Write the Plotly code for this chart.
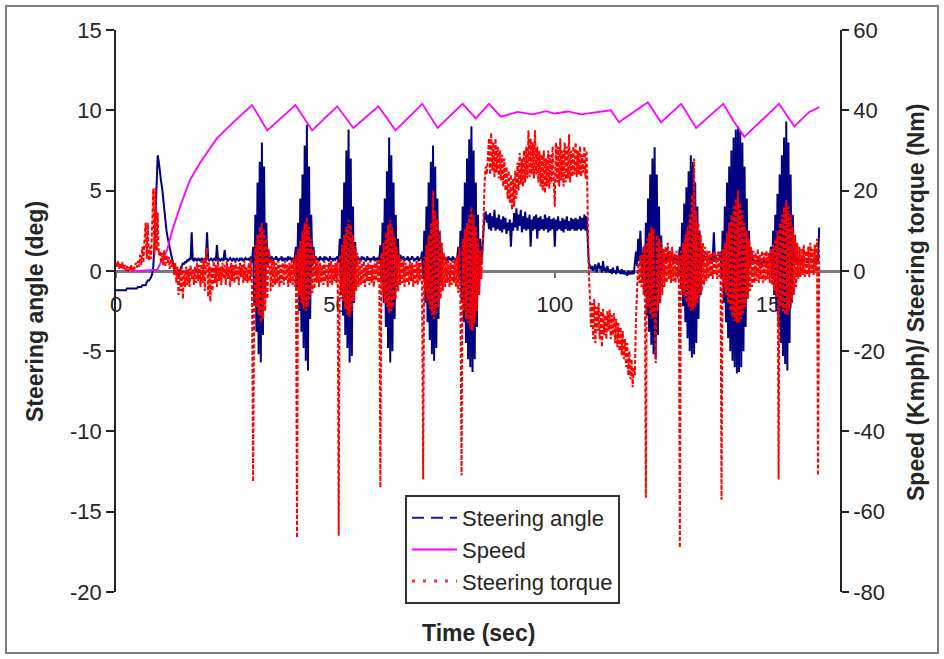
import plotly.graph_objects as go

# Sampled channels (one value every 0.25 s, starting at t = 0)
SAMPLE_INTERVAL_S = 0.25

steering_angle_deg = [
    -1.2, -1.2, -1.2, -1.2, -1.2, -1.2, -1.2, -1.2, -1.2, -1.2, -1.1, -1.1, -1.1, -1.1, -1.1, -1.1, -1.1, -1.1, -1.1, -1.1,
    -1.0, -1.0, -1.0, -1.0, -0.9, -0.9, -0.9, -0.9, -0.7, -0.6, -0.6, -0.5, -0.4, -0.2, 0.3, 1.5, 3.5, 5.8, 7.2, 6.8,
    6.0, 5.6, 5.2, 4.4, 3.6, 3.0, 2.5, 2.1, 1.7, 1.3, 1.1, 0.8, 0.4, 0.1, -0.2, -0.2, -0.3, -0.2, -0.2, 0.2,
    0.3, 0.5, 0.4, 0.6, 0.5, 0.7, 0.6, 0.8, 0.7, 2.4, 0.7, 0.6, 0.8, 0.7, 0.6, 0.8, 0.7, 0.6, 0.8, 0.7,
    0.6, 0.8, 0.7, 2.4, 0.8, 0.6, 0.7, 0.8, 0.6, 0.7, 0.8, 0.6, 1.6, 0.7, 0.8, 0.6, 0.7, 0.8, 0.6, 1.3,
    0.7, 0.8, 0.6, 0.7, 0.8, 0.7, 0.6, 0.8, 0.7, 0.6, 0.8, 0.7, 0.6, 0.8, 0.7, 0.8, 0.6, 0.7, 0.8, 0.7,
    0.7, 0.8, 0.6, 0.9, 0.5, 1.5, -2.0, 3.5, -3.8, 5.5, -5.2, 6.8, -5.7, 8.0, -4.0, 6.5, -1.5, 3.0, 0.2, 1.2,
    0.8, 0.7, 0.9, 0.6, 0.8, 0.7, 0.9, 0.7, 0.6, 0.8, 0.7, 0.9, 0.6, 0.8, 0.7, 0.8, 0.6, 0.9, 0.7, 0.8,
    0.7, 0.8, 0.6, 0.9, 1.5, -1.0, 3.0, -2.5, 4.5, -3.8, 6.0, -4.8, 7.8, -5.6, 9.1, -6.2, 6.5, -3.0, 3.5, 0.3,
    1.5, 0.6, 0.9, 0.7, 0.8, 0.6, 0.9, 0.7, 0.8, 0.6, 0.9, 0.7, 0.8, 0.7, 0.6, 0.9, 0.7, 0.8, 0.6, 0.8,
    0.7, 0.8, 0.9, 0.5, 2.0, -1.5, 3.8, -2.8, 5.5, -4.0, 7.5, -4.8, 8.8, -5.7, 7.0, -5.3, 4.0, -2.0, 1.8, 0.4,
    0.9, 0.7, 0.8, 0.6, 0.9, 0.7, 0.8, 0.7, 0.6, 0.9, 0.7, 0.8, 0.6, 0.8, 0.7, 0.9, 0.6, 0.8, 0.7, 0.8,
    0.7, 1.6, -0.8, 3.0, -2.0, 4.5, -3.5, 6.2, -4.8, 8.3, -5.7, 7.2, -5.0, 5.5, -3.0, 3.5, -1.0, 2.0, 0.3, 1.0,
    0.8, 0.7, 0.9, 0.6, 0.8, 0.7, 0.9, 0.6, 0.8, 0.7, 0.9, 0.7, 0.6, 0.8, 0.7, 0.9, 0.6, 0.8, 0.7, 1.2,
    -0.5, 2.5, -2.0, 4.0, -3.2, 5.5, -4.3, 6.8, -5.2, 7.8, -5.6, 6.5, -4.8, 4.5, -3.0, 2.5, -0.8, 1.2, 0.6, 0.9,
    0.7, 0.8, 0.6, 0.9, 0.7, 0.8, 0.6, 0.9, 0.7, 0.8, 0.6, 0.8, 1.5, -0.5, 2.5, -2.0, 4.0, -3.2, 5.5, -4.5,
    7.0, -5.5, 8.2, -6.0, 9.0, -6.3, 7.5, -5.5, 5.5, -3.5, 3.5, -1.5, 2.0, 0.5, 1.2, 2.5, 3.5, 3.7, 3.0, 3.5,
    2.6, 3.6, 2.5, 3.4, 2.7, 3.8, 2.5, 3.3, 2.6, 3.5, 2.5, 3.2, 2.4, 3.4, 2.6, 3.3, 2.3, 3.0, 2.5, 3.2,
    1.5, 3.0, 2.5, 3.6, 2.7, 3.9, 2.5, 3.5, 2.8, 3.8, 2.4, 3.4, 2.6, 3.7, 2.5, 3.3, 2.6, 3.5, 1.5, 3.2,
    2.5, 3.4, 2.6, 3.5, 2.0, 3.3, 2.5, 3.4, 2.6, 3.2, 2.5, 3.5, 2.6, 3.3, 2.4, 3.4, 2.5, 3.2, 2.6, 3.3,
    1.5, 3.2, 2.5, 3.4, 2.6, 3.1, 2.5, 3.3, 2.4, 3.2, 2.6, 3.4, 2.5, 3.1, 2.5, 3.3, 2.6, 3.2, 2.5, 3.3,
    2.5, 3.2, 2.6, 3.4, 2.5, 3.3, 2.6, 3.5, 2.5, 3.4, 1.5, 0.5, 0.3, 0.1, 0.3, 0.0, 0.2, 0.4, -0.1, 0.2,
    0.5, 0.1, 0.3, -0.1, 0.6, 0.0, 0.2, -0.1, 0.3, 0.0, -0.1, 0.1, -0.2, 0.2, -0.1, 0.0, -0.2, 0.3, -0.1, 0.0,
    -0.2, 0.1, -0.2, 0.0, -0.2, -0.1, -0.3, 0.0, -0.2, -0.1, -0.2, 0.0, -0.2, 0.5, 1.2, 0.3, 2.0, 0.6, 2.5, 0.8,
    -0.5, 1.5, -1.5, 3.0, -2.8, 4.5, -3.8, 6.0, -4.6, 7.0, -5.2, 7.7, -5.5, 6.0, -4.0, 4.0, -2.0, 2.2, 0.0, 1.2,
    0.6, 0.9, 0.7, 1.2, 0.6, 0.8, 0.7, 0.9, 0.6, 0.8, 0.7, 0.9, 0.6, 0.8, 1.5, -1.0, 3.0, -2.2, 4.2, -3.2,
    5.2, -4.2, 6.2, -5.0, 7.2, -5.4, 6.8, -5.2, 5.5, -4.5, 4.0, -3.0, 2.5, -1.5, 1.5, 0.3, 1.0, 0.7, 0.9, 0.6,
    0.8, 0.7, 0.9, 0.6, 0.8, 2.4, 0.7, 0.9, 0.6, 0.8, 0.7, 1.2, -0.5, 2.5, -2.0, 4.0, -3.2, 5.5, -4.2, 6.5,
    -5.0, 7.5, -5.6, 8.3, -6.0, 8.8, -6.4, 9.0, -6.3, 8.7, -6.0, 8.0, -5.0, 6.5, -3.5, 4.5, -1.5, 2.5, 0.3, 1.2,
    0.8, 0.6, 0.7, 0.5, 0.6, 0.7, 0.5, 0.6, 0.4, 0.6, 0.5, 0.7, 0.5, 0.6, 0.4, 0.6, 0.5, 1.5, -0.5, 2.5,
    -1.5, 3.5, -2.5, 4.8, -3.5, 6.0, -4.5, 7.2, -5.3, 8.3, -5.8, 9.3, -6.2, 8.0, -4.5, 6.0, -2.0, 3.5, 0.5, 1.8,
    0.6, 0.8, 0.5, 0.7, 0.6, 0.8, 0.5, 0.7, 0.6, 0.8, 0.5, 0.7, 0.6, 0.8, 0.5, 0.7, 0.6, 0.8, 0.5, 0.7,
    0.6, 2.7,
]

steering_torque_nm = [
    2.0, 1.0, 2.5, 0.5, 1.8, 0.8, 2.2, 0.5, 1.5, 0.0, 1.2, -0.3, 1.0, 0.2, 1.5, -0.2, 1.3, 0.5, 2.0, 0.8,
    2.5, 1.0, 4.0, 1.5, 6.0, 2.0, 8.0, 12.0, 3.0, 12.0, 2.5, 6.0, 3.0, 10.0, 20.5, 4.0, 20.7, 5.0, 14.5, 4.0,
    5.0, 2.0, 4.5, 1.5, 5.2, 1.0, 4.0, 2.0, 3.5, 0.5, 3.0, 1.0, 2.5, -1.0, 2.0, -3.0, 1.0, -6.0, 0.5, -5.0,
    1.0, -7.0, 0.0, -4.0, 1.0, -3.5, 0.5, -4.0, 1.5, -2.0, 0.5, -3.5, 1.0, -3.0, 2.0, -2.5, 1.5, -4.0, 2.5, -3.0,
    3.0, -5.0, 4.0, 5.7, -6.5, 2.0, -7.7, 1.0, -5.0, 2.5, -3.0, 1.5, -4.0, 2.7, -2.5, 1.0, -3.5, 2.0, -2.0, 1.5,
    -3.5, 2.5, -2.0, 1.0, -4.0, 2.0, -2.5, 1.5, -3.0, 2.5, -2.0, 1.0, -3.5, 2.0, -1.5, 1.5, -3.0, 2.5, -2.5, 1.0,
    -3.0, 2.0, -2.5, 3.0, -4.0, -52.5, -6.0, 6.5, -9.0, 9.0, -11.0, 11.0, -13.0, 12.0, -12.0, 10.0, -10.0, 8.0, -7.0, 5.5,
    4.0, -5.0, 3.0, -4.0, 2.5, -3.5, 2.0, -3.0, 2.5, -4.0, 1.5, -3.0, 2.0, -3.5, 2.5, -2.5, 1.5, -4.0, 2.0, -3.0,
    2.5, -3.5, 3.0, -4.0, 4.0, -66.5, 5.5, -6.0, 7.5, -8.0, 10.0, -9.5, 12.0, -10.0, 13.4, -9.0, 11.0, -7.0, 8.0, -5.5,
    5.0, -4.5, 3.5, -3.0, 2.5, -4.0, 2.0, -3.0, 1.5, -3.5, 2.5, -2.5, 1.5, -4.0, 2.0, -3.0, 2.5, -3.5, 1.5, -2.5,
    2.0, -3.0, 2.5, -66.0, 4.0, -5.5, 6.5, -7.5, 9.0, -9.5, 11.0, -11.0, 12.7, -11.5, 11.5, -10.0, 9.0, -7.5, 6.5, -5.0,
    4.5, -4.0, 3.0, -3.5, 2.0, -3.0, 2.5, -4.0, 1.5, -2.5, 2.0, -3.5, 2.5, -3.0, 1.5, -4.0, 2.0, -2.5, 2.5, -3.0,
    3.0, -54.0, 4.5, -5.5, 7.0, -8.0, 9.5, -9.0, 11.5, -10.5, 12.7, -10.0, 11.0, -9.0, 8.5, -7.0, 6.0, -5.0, 4.0, -3.5,
    3.0, -3.0, 2.5, -4.0, 2.0, -3.0, 1.5, -3.5, 2.5, -2.5, 2.0, -4.0, 1.5, -3.0, 2.5, -3.5, 2.0, -2.5, 3.0, -3.0,
    -52.0, 3.5, -5.0, 6.5, -7.5, 9.0, -9.5, 12.0, -11.0, 20.0, -12.0, 15.0, -11.0, 13.0, -9.0, 10.0, -7.0, 7.0, -5.0, 4.5,
    -4.0, 3.5, -3.0, 2.5, -4.0, 2.0, -3.5, 2.5, -3.0, 3.0, -4.0, 4.0, -5.5, 6.0, -7.5, -51.0, 8.0, -10.0, 10.5, -12.0,
    12.0, -13.0, 14.0, -14.5, 16.0, -15.0, 14.0, -13.0, 11.0, -10.0, 8.0, -6.0, 5.0, -2.0, 4.0, 12.0, 22.0, 26.0, 24.0, 30.0,
    33.0, 24.0, 34.4, 25.0, 32.0, 23.4, 33.0, 24.5, 31.0, 23.0, 30.0, 22.5, 29.0, 21.0, 28.0, 20.0, 26.0, 18.0, 25.0, 17.0,
    24.0, 15.2, 23.0, 16.0, 25.0, 18.0, 27.0, 20.0, 29.4, 21.5, 28.0, 21.0, 30.0, 22.0, 31.0, 23.0, 35.0, 23.4, 33.0, 24.0,
    32.0, 23.0, 35.0, 24.0, 31.0, 22.0, 30.0, 21.0, 29.0, 20.0, 30.0, 19.4, 28.0, 21.0, 30.0, 20.5, 29.0, 22.0, 31.0, 23.0,
    16.0, 32.0, 22.0, 31.0, 21.0, 33.0, 22.5, 30.0, 21.0, 32.0, 22.0, 31.0, 23.0, 34.0, 22.0, 30.0, 23.5, 31.0, 24.0, 32.0,
    23.4, 30.0, 24.0, 31.0, 23.5, 29.0, 24.5, 31.0, 23.0, 30.0, 12.0, 0.0, -6.5, -14.0, -8.0, -17.0, -7.0, -18.0, -9.0, -15.0,
    -8.0, -17.0, -10.0, -19.0, -9.5, -16.0, -11.0, -17.0, -10.0, -15.0, -9.7, -17.0, -11.0, -16.0, -10.5, -18.0, -12.0, -19.0, -13.0, -20.0,
    -14.0, -21.0, -15.0, -22.0, -17.0, -24.0, -18.0, -26.0, -20.0, -27.0, -22.0, -29.0, -24.0, -26.0, -12.0, -2.0, 2.0, -3.0, 4.0, -4.0,
    5.0, -6.0, 6.5, -56.5, 8.0, -9.0, 9.5, -11.0, 11.0, -12.0, 10.5, -13.0, -23.0, 9.0, -10.0, 8.0, -8.0, 7.0, -6.0, 5.5,
    -4.0, 6.0, -3.0, 7.0, -2.0, 5.0, -3.0, 6.0, -2.5, 4.5, -3.0, 5.0, -2.0, 4.0, -69.0, 5.0, -5.0, 7.0, -6.5, 9.0,
    -8.0, 11.0, -9.0, 14.0, -10.0, 19.0, -9.7, 28.0, -9.0, 15.0, -8.0, 12.0, -6.5, 9.0, -5.0, 7.0, -3.5, 6.0, -2.5, 5.0,
    -2.0, 5.0, -1.5, 4.5, -2.0, 5.0, -1.0, 4.0, -2.0, 5.0, -1.5, 4.5, -57.0, 5.5, -4.0, 7.0, -6.0, 9.5, -8.0, 12.0,
    -10.0, 14.0, -11.5, 16.0, -12.5, 18.0, -13.0, 20.0, -13.0, 17.0, -12.0, 15.0, -10.5, 12.0, -9.0, 10.0, -7.0, 8.0, -5.0, 6.0,
    -4.0, 5.0, -3.0, 4.5, -2.5, 5.5, -3.0, 4.0, -2.0, 5.0, -3.0, 4.5, -2.5, 5.0, -2.0, 4.5, -3.0, 5.5, -3.5, 6.5,
    -5.0, 8.0, -6.5, 10.0, -52.0, 12.0, -9.0, 14.0, -10.0, 16.0, -11.0, 17.7, -11.0, 16.0, -10.0, 14.0, -8.0, 11.0, -6.0, 9.0,
    -4.0, 7.0, -2.0, 6.0, -1.5, 5.5, -1.0, 6.5, -1.5, 5.0, -1.0, 6.0, -1.5, 7.0, -0.5, 5.5, -1.0, 6.5, 0.0, 8.0,
    -51.0, 5.0,
]

time_s = [round(i * SAMPLE_INTERVAL_S, 2) for i in range(len(steering_angle_deg))]

# Vehicle speed breakpoints
speed_time_s = [0, 2, 5, 9.4, 11.6, 12.8, 14.6, 16.9, 19.2, 23.0,
                26.7, 31.0, 34.5, 40.9, 44.7, 50.4, 54.1, 59.8, 63.7, 69.8,
                73.3, 79.0, 82.0, 85.0, 87.7, 91.5, 95.0, 98.0, 100.0, 103.0,
                106.0, 110.0, 112.8, 114.6, 121.2, 124.2, 128.8, 132.2, 138.4, 140.9,
                143.2, 151.1, 154.6, 158.0, 160.3]
speed_kmph = [1.5, 0.5, 0.0, 0.3, 5.0, 10.0, 16.0, 22.7, 27.0, 33.0,
              37.0, 41.3, 35.0, 41.3, 35.0, 41.0, 35.6, 41.0, 35.0, 41.6,
              35.6, 41.6, 38.0, 41.6, 38.4, 39.6, 39.0, 39.8, 39.2, 39.7,
              39.0, 39.6, 40.0, 37.0, 42.0, 37.0, 41.6, 35.6, 41.6, 37.0,
              33.4, 41.6, 36.0, 39.6, 40.8]

x_tick_vals = [0, 50, 100, 150]
angle_tick_vals = [-20, -15, -10, -5, 0, 5, 10, 15]
angle_tick_text = ["-20", "-15", "-10", "-5", "0", "5", "10", "15"]
right_tick_vals = [-80, -60, -40, -20, 0, 20, 40, 60]
right_tick_text = ["-80", "-60", "-40", "-20", "0", "20", "40", "60"]

FONT = "Liberation Sans, Arial, sans-serif"
TEXT = "#262626"
NAVY = "#000080"
MAGENTA = "#FF00FF"
RED = "#FF0000"

# plot-area geometry in pixels (used to place legend, titles and frame)
W, H = 944, 659
L, R, T, B = 116, 104, 30, 67
PW, PH = W - L - R, H - T - B


def px_x(px):
    return (px - L) / PW


def px_y(py):
    return (H - B - py) / PH


fig = go.Figure()

# measured channels (dense traces)
fig.add_trace(go.Scatter(
    x=time_s, y=steering_angle_deg, name="Steering angle", mode="lines",
    line=dict(color=NAVY, width=2.0), yaxis="y", showlegend=False))
fig.add_trace(go.Scatter(
    x=speed_time_s, y=speed_kmph, name="Speed", mode="lines",
    line=dict(color=MAGENTA, width=1.8), yaxis="y2", showlegend=False))
fig.add_trace(go.Scatter(
    x=time_s, y=steering_torque_nm, name="Steering torque", mode="lines",
    line=dict(color=RED, width=2.0, dash="4px,2px"), yaxis="y2", showlegend=False))

# legend keys with the series' line styles
fig.add_trace(go.Scatter(
    x=[None], y=[None], name="Steering angle", mode="lines",
    line=dict(color="#1a1a8c", width=2, dash="12px,7px"), yaxis="y", legendgroup="a"))
fig.add_trace(go.Scatter(
    x=[None], y=[None], name="Speed", mode="lines",
    line=dict(color=MAGENTA, width=2), yaxis="y2", legendgroup="b"))
fig.add_trace(go.Scatter(
    x=[None], y=[None], name="Steering torque", mode="lines",
    line=dict(color="#ff3030", width=3, dash="3px,8px"), yaxis="y2", legendgroup="c"))

fig.update_layout(
    width=W, height=H,
    margin=dict(l=L, r=R, t=T, b=B),
    paper_bgcolor="white", plot_bgcolor="white",
    font=dict(family=FONT, size=22, color=TEXT),
    showlegend=True,
    legend=dict(
        x=px_x(405), y=px_y(495), xanchor="left", yanchor="top",
        bgcolor="white", bordercolor="#333333", borderwidth=2,
        font=dict(family=FONT, size=22, color=TEXT),
        tracegroupgap=0, itemwidth=45,
    ),
    xaxis=dict(
        range=[0, 165], anchor="free", position=20 / 35,
        tickvals=x_tick_vals, ticks="outside", ticklen=5, tickwidth=1.5,
        tickcolor="#6f6f6f", ticklabelstandoff=8,
        showline=True, linecolor="#7a7a7a", linewidth=2.5,
        showgrid=False, zeroline=False, layer="below traces",
    ),
    yaxis=dict(
        range=[-20, 15], tickvals=angle_tick_vals, ticktext=angle_tick_text,
        ticks="outside", ticklen=8, tickwidth=1.5, tickcolor="#222222",
        showline=True, linecolor="#222222", linewidth=1.5,
        showgrid=False, zeroline=False,
    ),
    yaxis2=dict(
        range=[-80, 60], overlaying="y", side="right", anchor="x",
        tickvals=right_tick_vals, ticktext=right_tick_text,
        ticks="outside", ticklen=7, tickwidth=1.5, tickcolor="#222222",
        showline=True, linecolor="#222222", linewidth=1.5,
        showgrid=False, zeroline=False,
    ),
    yaxis3=dict(
        range=[-80, 60], overlaying="y", side="right", anchor="x",
        tickvals=right_tick_vals, showticklabels=False,
        ticks="inside", ticklen=7, tickwidth=1.5, tickcolor="#222222",
        showline=False, showgrid=False, zeroline=False,
    ),
    annotations=[
        dict(text="<b>Time (sec)</b>", xref="paper", yref="paper",
             x=px_x(478), y=px_y(633), xanchor="center", yanchor="middle",
             showarrow=False, font=dict(family=FONT, size=23, color=TEXT)),
        dict(text="<b>Steering angle (deg)</b>", xref="paper", yref="paper",
             x=px_x(35), y=px_y(312), xanchor="center", yanchor="middle",
             textangle=-90, showarrow=False,
             font=dict(family=FONT, size=23, color=TEXT)),
        dict(text="<b>Speed (Kmph)/ Steering torque (Nm)</b>", xref="paper", yref="paper",
             x=px_x(916), y=px_y(303), xanchor="center", yanchor="middle",
             textangle=-90, showarrow=False,
             font=dict(family=FONT, size=23, color=TEXT)),
    ],
    shapes=[
        dict(type="rect", xref="paper", yref="paper",
             x0=px_x(6), x1=px_x(938), y0=px_y(653), y1=px_y(6),
             line=dict(color="#7f7f7f", width=2), fillcolor="rgba(0,0,0,0)",
             layer="below"),
    ],
)

fig.write_html("out.html")
